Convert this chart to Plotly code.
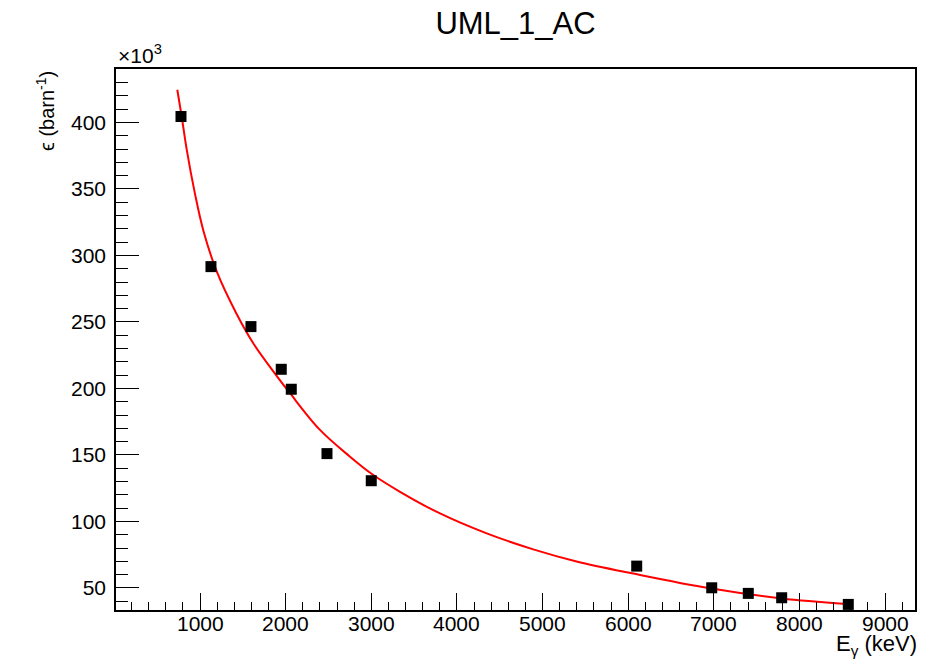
import plotly.graph_objects as go

# Measured points (E in keV, efficiency in units of 10^3 barn^-1)
energy_kev = [778, 1128, 1595, 1949, 2066, 2483, 3000, 6100, 6976, 7403, 7793, 8571]
efficiency = [404.5, 291.6, 246.5, 214.4, 199.4, 151.0, 130.6, 66.4, 50.1, 45.9, 42.6, 37.6]

# Fit curve
fit_energy = [735, 786, 844, 941, 1038, 1195, 1428, 1622, 1895, 2051, 2401, 2752,
              3024, 3336, 3803, 4348, 4892, 5398, 6060, 6956, 7793, 8550]
fit_eff = [424.6, 404.5, 380.0, 346.5, 319.0, 288.0, 256.0, 234.0, 209.5, 196.4,
           168.8, 148.7, 134.9, 122.3, 106.0, 91.0, 79.0, 69.9, 60.8, 49.7, 42.1, 38.0]

x_ticks = [1000, 2000, 3000, 4000, 5000, 6000, 7000, 8000, 9000]
y_ticks = [50, 100, 150, 200, 250, 300, 350, 400]

FONT = "Liberation Sans, Arial, Helvetica, sans-serif"

fig = go.Figure()
fig.add_trace(go.Scatter(x=fit_energy, y=fit_eff, mode="lines",
                         line=dict(color="#ff0000", width=2, shape="spline", smoothing=1.0),
                         hoverinfo="skip", showlegend=False))
fig.add_trace(go.Scatter(x=energy_kev, y=efficiency, mode="markers",
                         marker=dict(symbol="square", size=11, color="black"),
                         showlegend=False))

W, H = 938, 660
ml, mr, mt, mb = 116, 23, 69, 50
pw = W - ml - mr
ph = H - mt - mb


def paper_y(py):
    """Convert a pixel row (from top) into paper coordinates."""
    return (H - mb - py) / ph


fig.update_layout(
    width=W, height=H,
    margin=dict(l=ml, r=mr, t=mt, b=mb, pad=0),
    paper_bgcolor="white", plot_bgcolor="white",
    font=dict(family=FONT, color="black"),
    title=dict(text="UML_1_AC", x=0.5, xref="paper", y=1 - 23 / H, yref="container",
               xanchor="center", yanchor="middle", font=dict(size=31, family=FONT)),
    xaxis=dict(range=[19, 9350], tickvals=x_ticks, showticklabels=False,
               ticks="inside", ticklen=17, tickwidth=1.2, tickcolor="black",
               minor=dict(dtick=200, tick0=0, ticks="inside", ticklen=8, tickwidth=1.2,
                          tickcolor="black", showgrid=False),
               showline=True, linecolor="black", linewidth=1.5, mirror=True,
               showgrid=False, zeroline=False),
    yaxis=dict(range=[33.4, 440.2], tickvals=y_ticks, ticktext=[str(v) for v in y_ticks],
               ticks="inside", ticklen=23, tickwidth=1.2, tickcolor="black",
               minor=dict(dtick=10, tick0=0, ticks="inside", ticklen=12, tickwidth=1.2,
                          tickcolor="black", showgrid=False),
               showline=True, linecolor="black", linewidth=1.5, mirror=True,
               showgrid=False, zeroline=False, tickfont=dict(size=21), ticklabelstandoff=4),
)

# x tick labels placed on the x axis scale
for v in x_ticks:
    fig.add_annotation(text=str(v), xref="x", yref="paper", x=v, y=paper_y(623),
                       xanchor="center", yanchor="middle", showarrow=False,
                       font=dict(size=21, family=FONT), borderpad=0)

fig.add_annotation(text="E<sub>γ</sub> (keV)", xref="paper", yref="paper",
                   x=1.0 + 3 / pw, y=paper_y(645), xanchor="right", yanchor="middle",
                   showarrow=False, font=dict(size=22, family=FONT), borderpad=0)
fig.add_annotation(text="ϵ (barn<sup>-1</sup>)", xref="paper", yref="paper",
                   x=-(ml - 45) / pw, y=1.0, xanchor="center", yanchor="top",
                   textangle=-90, showarrow=False, font=dict(size=20, family=FONT))
fig.add_annotation(text="×10<sup>3</sup>", xref="paper", yref="paper",
                   x=0.0, y=1.0, xanchor="left", yanchor="bottom",
                   showarrow=False, font=dict(size=21, family=FONT))

fig.write_html("out.html")
